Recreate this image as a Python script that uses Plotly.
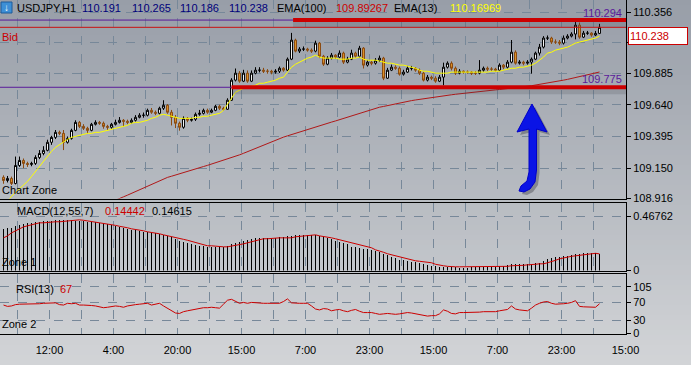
import plotly.graph_objects as go

# ---------------- data ----------------
open_ = [109.080, 109.055, 109.071, 109.032, 109.171, 109.210, 109.187, 109.179, 109.187, 109.233,
         109.264, 109.288, 109.350, 109.388, 109.427, 109.419, 109.350, 109.380, 109.442, 109.504,
         109.473, 109.458, 109.442, 109.489, 109.504, 109.497, 109.473, 109.466, 109.489, 109.504,
         109.520, 109.512, 109.504, 109.520, 109.543, 109.559, 109.559, 109.597, 109.582, 109.574,
         109.613, 109.636, 109.582, 109.543, 109.497, 109.466, 109.535, 109.520, 109.528, 109.566,
         109.574, 109.597, 109.582, 109.597, 109.628, 109.613, 109.605, 109.675, 109.830, 109.884,
         109.822, 109.884, 109.822, 109.884, 109.907, 109.907, 109.899, 109.899, 109.892, 109.899,
         109.922, 109.907, 109.992, 110.139, 110.054, 110.070, 110.070, 110.062, 110.054, 110.116,
         110.015, 109.953, 110.000, 110.023, 110.008, 110.039, 109.969, 109.992, 110.039, 110.015,
         110.077, 109.946, 109.969, 109.961, 109.984, 110.000, 109.845, 109.907, 109.930, 109.922,
         109.876, 109.892, 109.922, 109.922, 109.907, 109.884, 109.830, 109.853, 109.845, 109.822,
         109.853, 109.930, 109.961, 109.922, 109.884, 109.899, 109.892, 109.892, 109.884, 109.884,
         109.907, 109.922, 109.915, 109.915, 109.907, 109.946, 109.930, 109.969, 110.046, 109.961,
         109.969, 109.961, 109.969, 109.992, 110.039, 110.085, 110.155, 110.155, 110.124, 110.124,
         110.116, 110.155, 110.170, 110.186, 110.255, 110.162, 110.193, 110.193, 110.178, 110.191]
high = [109.095, 109.090, 109.085, 109.240, 109.240, 109.225, 109.200, 109.200, 109.250, 109.290,
        109.320, 109.370, 109.400, 109.445, 109.440, 109.445, 109.395, 109.455, 109.520, 109.515,
        109.490, 109.470, 109.500, 109.520, 109.515, 109.510, 109.485, 109.500, 109.525, 109.545,
        109.530, 109.525, 109.535, 109.560, 109.575, 109.580, 109.610, 109.615, 109.595, 109.625,
        109.675, 109.645, 109.600, 109.560, 109.510, 109.550, 109.545, 109.540, 109.580, 109.600,
        109.610, 109.610, 109.610, 109.640, 109.640, 109.625, 109.690, 109.845, 109.920, 109.900,
        109.910, 109.905, 109.905, 109.930, 109.930, 109.925, 109.915, 109.910, 109.915, 109.935,
        109.930, 110.005, 110.195, 110.150, 110.085, 110.090, 110.080, 110.075, 110.135, 110.125,
        110.025, 110.015, 110.040, 110.030, 110.060, 110.050, 110.010, 110.065, 110.050, 110.095,
        110.085, 109.985, 109.980, 110.000, 110.020, 110.010, 109.925, 109.950, 109.945, 109.935,
        109.910, 109.940, 109.940, 109.930, 109.920, 109.895, 109.870, 109.865, 109.860, 109.870,
        109.965, 109.975, 109.975, 109.935, 109.915, 109.905, 109.905, 109.900, 109.900, 109.985,
        109.935, 109.935, 109.930, 109.925, 109.960, 109.955, 109.985, 110.140, 110.060, 109.985,
        109.980, 109.985, 110.005, 110.050, 110.110, 110.170, 110.175, 110.165, 110.145, 110.140,
        110.175, 110.185, 110.200, 110.280, 110.275, 110.210, 110.210, 110.200, 110.210, 110.265]
low = [109.030, 109.040, 109.020, 109.025, 109.160, 109.150, 109.160, 109.165, 109.175, 109.220,
       109.250, 109.280, 109.330, 109.375, 109.405, 109.290, 109.340, 109.370, 109.435, 109.460,
       109.445, 109.420, 109.435, 109.480, 109.485, 109.455, 109.445, 109.455, 109.480, 109.495,
       109.470, 109.490, 109.495, 109.510, 109.535, 109.540, 109.550, 109.570, 109.560, 109.565,
       109.600, 109.570, 109.480, 109.460, 109.440, 109.455, 109.505, 109.510, 109.515, 109.555,
       109.565, 109.570, 109.575, 109.590, 109.600, 109.595, 109.600, 109.670, 109.820, 109.810,
       109.815, 109.810, 109.815, 109.875, 109.890, 109.885, 109.880, 109.875, 109.880, 109.885,
       109.895, 109.900, 109.985, 110.045, 110.040, 110.055, 110.050, 110.040, 110.045, 110.000,
       109.940, 109.945, 109.990, 109.995, 110.000, 109.955, 109.960, 109.985, 110.005, 110.005,
       109.920, 109.935, 109.945, 109.950, 109.970, 109.830, 109.840, 109.900, 109.910, 109.865,
       109.865, 109.885, 109.905, 109.895, 109.870, 109.820, 109.820, 109.830, 109.810, 109.815,
       109.790, 109.920, 109.905, 109.870, 109.875, 109.880, 109.880, 109.870, 109.870, 109.875,
       109.895, 109.900, 109.900, 109.895, 109.900, 109.915, 109.920, 109.960, 109.950, 109.950,
       109.945, 109.950, 109.880, 109.985, 110.020, 110.075, 110.140, 110.110, 110.110, 110.100,
       110.105, 110.145, 110.160, 110.145, 110.150, 110.155, 110.180, 110.165, 110.170, 110.186]
close = [109.055, 109.071, 109.032, 109.171, 109.210, 109.187, 109.179, 109.187, 109.233, 109.264,
         109.288, 109.350, 109.388, 109.427, 109.419, 109.350, 109.380, 109.442, 109.504, 109.473,
         109.458, 109.442, 109.489, 109.504, 109.497, 109.473, 109.466, 109.489, 109.504, 109.520,
         109.512, 109.504, 109.520, 109.543, 109.559, 109.559, 109.597, 109.582, 109.574, 109.613,
         109.636, 109.582, 109.543, 109.497, 109.466, 109.535, 109.520, 109.528, 109.566, 109.574,
         109.597, 109.582, 109.597, 109.628, 109.613, 109.605, 109.675, 109.830, 109.884, 109.822,
         109.884, 109.822, 109.884, 109.907, 109.907, 109.899, 109.899, 109.892, 109.899, 109.922,
         109.907, 109.992, 110.139, 110.054, 110.070, 110.070, 110.062, 110.054, 110.116, 110.015,
         109.953, 110.000, 110.023, 110.008, 110.039, 109.969, 109.992, 110.039, 110.015, 110.077,
         109.946, 109.969, 109.961, 109.984, 110.000, 109.845, 109.907, 109.930, 109.922, 109.876,
         109.892, 109.922, 109.922, 109.907, 109.884, 109.830, 109.853, 109.845, 109.822, 109.853,
         109.930, 109.961, 109.922, 109.884, 109.899, 109.892, 109.892, 109.884, 109.884, 109.907,
         109.922, 109.915, 109.915, 109.907, 109.946, 109.930, 109.969, 110.046, 109.961, 109.969,
         109.961, 109.969, 109.992, 110.039, 110.085, 110.155, 110.155, 110.124, 110.124, 110.116,
         110.155, 110.170, 110.186, 110.255, 110.162, 110.193, 110.193, 110.178, 110.191, 110.238]

ema13 = [108.862, 108.901, 108.932, 108.963, 108.993, 109.017, 109.048, 109.086, 109.125, 109.164,
         109.210, 109.241, 109.280, 109.311, 109.334, 109.350, 109.373, 109.388, 109.396, 109.404,
         109.411, 109.419, 109.419, 109.427, 109.427, 109.435, 109.442, 109.450, 109.458, 109.466,
         109.473, 109.481, 109.497, 109.504, 109.504, 109.512, 109.520, 109.535, 109.543, 109.559,
         109.566, 109.559, 109.551, 109.543, 109.535, 109.535, 109.535, 109.535, 109.543, 109.543,
         109.551, 109.551, 109.559, 109.566, 109.574, 109.597, 109.644, 109.698, 109.737, 109.752,
         109.768, 109.776, 109.783, 109.791, 109.806, 109.806, 109.814, 109.822, 109.830, 109.845,
         109.853, 109.892, 109.930, 109.953, 109.969, 109.984, 110.000, 110.008, 110.023, 110.008,
         110.000, 110.000, 110.000, 110.000, 109.992, 109.992, 109.992, 110.000, 110.000, 110.008,
         109.992, 109.984, 109.984, 109.984, 109.977, 109.969, 109.961, 109.961, 109.953, 109.946,
         109.946, 109.938, 109.930, 109.922, 109.907, 109.899, 109.899, 109.892, 109.884, 109.884,
         109.884, 109.884, 109.892, 109.892, 109.892, 109.892, 109.892, 109.892, 109.892, 109.892,
         109.892, 109.892, 109.899, 109.899, 109.899, 109.907, 109.915, 109.922, 109.922, 109.930,
         109.930, 109.938, 109.946, 109.961, 109.984, 110.008, 110.039, 110.046, 110.062, 110.070,
         110.077, 110.085, 110.100, 110.116, 110.124, 110.131, 110.139, 110.147, 110.155, 110.170]

ema100 = [None] * 27 + [
    108.890, 108.901, 108.915, 108.929, 108.942, 108.956, 108.970, 108.983, 108.997, 109.011,
    109.024, 109.038, 109.052, 109.065, 109.079, 109.088, 109.098, 109.107, 109.116, 109.126,
    109.135, 109.144, 109.154, 109.163, 109.172, 109.182, 109.191, 109.200, 109.210, 109.219,
    109.228, 109.240, 109.253, 109.265, 109.278, 109.291, 109.304, 109.317, 109.329, 109.342,
    109.355, 109.368, 109.380, 109.390, 109.400, 109.410, 109.420, 109.431, 109.441, 109.451,
    109.461, 109.470, 109.479, 109.488, 109.497, 109.506, 109.515, 109.525, 109.534, 109.543,
    109.553, 109.562, 109.572, 109.582, 109.592, 109.601, 109.611, 109.621, 109.627, 109.634,
    109.640, 109.646, 109.653, 109.659, 109.665, 109.672, 109.677, 109.682, 109.686, 109.691,
    109.695, 109.700, 109.704, 109.709, 109.713, 109.717, 109.721, 109.725, 109.728, 109.732,
    109.736, 109.740, 109.744, 109.747, 109.750, 109.752, 109.755, 109.758, 109.761, 109.764,
    109.766, 109.769, 109.774, 109.778, 109.783, 109.787, 109.792, 109.796, 109.801, 109.805,
    109.811, 109.818, 109.824, 109.830, 109.836, 109.843, 109.849, 109.855, 109.863, 109.870,
    109.878, 109.885, 109.893]

macd_hist = [0.357, 0.365, 0.370, 0.383, 0.396, 0.400, 0.413, 0.413, 0.417, 0.422,
             0.426, 0.430, 0.430, 0.435, 0.439, 0.439, 0.439, 0.435, 0.430, 0.430,
             0.426, 0.422, 0.422, 0.417, 0.413, 0.409, 0.400, 0.396, 0.383, 0.374,
             0.370, 0.361, 0.352, 0.348, 0.344, 0.335, 0.331, 0.326, 0.322, 0.318,
             0.309, 0.300, 0.288, 0.275, 0.253, 0.244, 0.240, 0.227, 0.218, 0.214,
             0.210, 0.205, 0.205, 0.205, 0.205, 0.205, 0.214, 0.227, 0.240, 0.249,
             0.257, 0.266, 0.275, 0.279, 0.283, 0.283, 0.283, 0.283, 0.283, 0.288,
             0.292, 0.296, 0.300, 0.309, 0.309, 0.309, 0.309, 0.309, 0.309, 0.300,
             0.288, 0.283, 0.270, 0.257, 0.249, 0.240, 0.231, 0.205, 0.201, 0.197,
             0.188, 0.184, 0.179, 0.166, 0.158, 0.145, 0.132, 0.119, 0.106, 0.093,
             0.088, 0.080, 0.075, 0.071, 0.067, 0.058, 0.049, 0.041, 0.036, 0.032,
             0.032, 0.032, 0.028, 0.028, 0.023, 0.023, 0.023, 0.028, 0.028, 0.032,
             0.032, 0.032, 0.032, 0.032, 0.036, 0.041, 0.049, 0.054, 0.058, 0.058,
             0.058, 0.058, 0.058, 0.062, 0.067, 0.084, 0.101, 0.110, 0.114, 0.119,
             0.123, 0.127, 0.136, 0.140, 0.145, 0.149, 0.153, 0.153, 0.150, 0.146]

macd_signal = [0.283, 0.300, 0.326, 0.344, 0.365, 0.378, 0.387, 0.396, 0.404, 0.413,
               0.413, 0.417, 0.417, 0.422, 0.422, 0.426, 0.430, 0.435, 0.439, 0.439,
               0.435, 0.430, 0.426, 0.422, 0.417, 0.409, 0.404, 0.396, 0.391, 0.383,
               0.378, 0.370, 0.361, 0.357, 0.348, 0.344, 0.335, 0.331, 0.322, 0.318,
               0.309, 0.300, 0.296, 0.288, 0.279, 0.270, 0.262, 0.253, 0.240, 0.231,
               0.223, 0.214, 0.214, 0.210, 0.210, 0.205, 0.205, 0.210, 0.218, 0.223,
               0.231, 0.240, 0.249, 0.257, 0.266, 0.275, 0.275, 0.279, 0.279, 0.283,
               0.283, 0.283, 0.283, 0.292, 0.296, 0.300, 0.305, 0.309, 0.309, 0.300,
               0.296, 0.292, 0.283, 0.275, 0.266, 0.257, 0.249, 0.240, 0.227, 0.218,
               0.210, 0.201, 0.197, 0.179, 0.171, 0.158, 0.145, 0.136, 0.123, 0.114,
               0.106, 0.097, 0.093, 0.084, 0.080, 0.075, 0.071, 0.067, 0.054, 0.045,
               0.041, 0.036, 0.032, 0.032, 0.032, 0.032, 0.032, 0.032, 0.032, 0.032,
               0.032, 0.032, 0.032, 0.032, 0.032, 0.036, 0.036, 0.041, 0.041, 0.045,
               0.045, 0.049, 0.049, 0.054, 0.058, 0.058, 0.067, 0.075, 0.088, 0.101,
               0.110, 0.119, 0.123, 0.127, 0.132, 0.136, 0.145, 0.149, 0.149, 0.144]

rsi = [64, 61, 62, 65, 66, 66, 66, 66, 66, 67,
       68, 68, 68, 69, 65, 64, 68, 67, 68, 64,
       64, 64, 63, 62, 60, 58, 59, 61, 62, 61,
       59, 62, 64, 65, 66, 67, 68, 64, 66, 68,
       62, 57, 51, 46, 45, 49, 51, 53, 55, 57,
       58, 58, 59, 58, 57, 66, 75, 77, 73, 68,
       70, 68, 70, 69, 69, 68, 68, 68, 68, 68,
       72, 78, 69, 68, 68, 68, 68, 62, 55, 53,
       56, 55, 51, 53, 54, 51, 49, 52, 54, 50,
       47, 47, 47, 45, 43, 44, 45, 44, 43, 44,
       46, 47, 46, 44, 42, 40, 39, 40, 40, 44,
       53, 50, 45, 44, 47, 47, 47, 47, 47, 48,
       49, 49, 49, 49, 51, 53, 54, 62, 55, 53,
       52, 51, 57, 64, 68, 71, 72, 68, 66, 66,
       67, 68, 70, 74, 61, 60, 60, 59, 59, 67]

time_labels = ["12:00", "4:00", "20:00", "15:00", "7:00", "23:00", "15:00", "7:00", "23:00", "15:00"]
price_ticks = [110.356, 110.121, 109.885, 109.640, 109.395, 109.150, 108.916]
price_ticktext = ["110.356", "", "109.885", "109.640", "109.395", "109.150", "108.916"]
macd_ticks = [0.46762, 0]
rsi_ticks = [105, 70, 30, 0]
line_high = 110.294
line_low = 109.775
bid = 110.238

bars = list(range(len(close)))

# ---------------- geometry helpers (pixels -> paper) ----------------
FW, FH = 691, 365
PW, PH = 626, 334


def px(x):
    return x / PW


def py(y):
    return (PH - y) / PH


# 4 px per bar, bar k centred on pixel 3.5 + 4k
XR = [-0.875, 155.625]
grid_x = [3.5 + 8 * i for i in range(20)]
grid_text = []
for i in range(20):
    grid_text.append(time_labels[(i - 1) // 2] if i % 2 == 1 else "")

GRID = "#778899"
FONT = "Liberation Sans"

fig = go.Figure()

fig.add_trace(go.Candlestick(
    x=bars, open=open_, high=high, low=low, close=close,
    increasing=dict(line=dict(color="#000000", width=1), fillcolor="#ffffff"),
    decreasing=dict(line=dict(color="#8a4a10", width=1), fillcolor="#e0962a"),
    whiskerwidth=0, xaxis="x", yaxis="y", hoverinfo="skip", showlegend=False))
fig.add_trace(go.Scatter(x=bars, y=ema100, mode="lines", line=dict(color="#b01818", width=1),
                         xaxis="x", yaxis="y", hoverinfo="skip", showlegend=False))
fig.add_trace(go.Scatter(x=bars, y=ema13, mode="lines", line=dict(color="#ffff00", width=1),
                         xaxis="x", yaxis="y", hoverinfo="skip", showlegend=False))

fig.add_trace(go.Bar(x=bars, y=macd_hist, width=0.25, marker=dict(color="#000000", line=dict(width=0)),
                     xaxis="x2", yaxis="y2", hoverinfo="skip", showlegend=False))
fig.add_trace(go.Scatter(x=bars, y=macd_signal, mode="lines", line=dict(color="#cc0000", width=1),
                         xaxis="x2", yaxis="y2", hoverinfo="skip", showlegend=False))

fig.add_trace(go.Scatter(x=bars, y=rsi, mode="lines", line=dict(color="#cc0000", width=1),
                         xaxis="x3", yaxis="y3", hoverinfo="skip", showlegend=False))

# ---------------- background gradient ----------------
shapes = []
N = 73
c0 = (152, 158, 168)
c1 = (210, 212, 215)
for i in range(N):
    t = i / (N - 1)
    c = tuple(int(round(c0[j] + (c1[j] - c0[j]) * t)) for j in range(3))
    y0 = i * FH / N
    y1 = (i + 1) * FH / N + 0.5
    shapes.append(dict(type="rect", xref="paper", yref="paper", x0=px(0), x1=px(FW),
                       y0=py(y1), y1=py(y0), fillcolor="rgb(%d,%d,%d)" % c,
                       line=dict(width=0), layer="below"))

# horizontal objects in price panel
shapes += [
    dict(type="line", xref="x", yref="y", x0=XR[0], x1=XR[1], y0=line_high, y1=line_high,
         line=dict(color="#5a1a9a", width=1)),
    dict(type="line", xref="x", yref="y", x0=XR[0], x1=XR[1], y0=line_low, y1=line_low,
         line=dict(color="#5a1a9a", width=1)),
    dict(type="line", xref="x", yref="y", x0=XR[0], x1=XR[1], y0=bid, y1=bid,
         line=dict(color="#c81010", width=1)),
    # shadows of thick trend lines
    dict(type="line", xref="x", yref="y", x0=72.4, x1=XR[1], y0=line_high - 0.030, y1=line_high - 0.030,
         line=dict(color="rgba(60,60,70,0.18)", width=6)),
    dict(type="line", xref="x", yref="y", x0=57.0, x1=XR[1], y0=line_low - 0.030, y1=line_low - 0.030,
         line=dict(color="rgba(60,60,70,0.18)", width=6)),
    dict(type="line", xref="x", yref="y", x0=72.4, x1=XR[1], y0=line_high, y1=line_high,
         line=dict(color="#cc0000", width=4)),
    dict(type="line", xref="x", yref="y", x0=57.0, x1=XR[1], y0=line_low, y1=line_low,
         line=dict(color="#cc0000", width=4)),
]


def path(points):
    s = "M %f,%f" % (px(points[0][0]), py(points[0][1]))
    for p in points[1:]:
        s += " L %f,%f" % (px(p[0]), py(p[1]))
    return s + " Z"


arrow = [(532, 104), (547, 132), (536.5, 129), (536.5, 170), (535, 182), (530, 189), (524, 192),
         (519, 191), (521, 186), (527, 181), (529, 172), (529, 129), (517, 132)]
shadow = [(x + 3, y + 3) for x, y in arrow]
shapes.append(dict(type="path", xref="paper", yref="paper", path=path(shadow),
                   fillcolor="rgba(40,40,50,0.35)", line=dict(width=0)))
shapes.append(dict(type="path", xref="paper", yref="paper", path=path(arrow),
                   fillcolor="#0a14e6", line=dict(color="#0000c8", width=1)))

# title icon
shapes.append(dict(type="rect", xref="paper", yref="paper", x0=px(1), x1=px(12), y0=py(13), y1=py(2),
                   fillcolor="#3d8fd6", line=dict(color="#1d5a9a", width=1)))

# ---------------- texts ----------------
ann = []


def txt(x, y, s, color="#000000", size=11, anchor="left"):
    ann.append(dict(xref="paper", yref="paper", x=px(x), y=py(y), text=s, showarrow=False,
                    xanchor=anchor, yanchor="middle", font=dict(family=FONT, size=size, color=color)))


txt(2, 8, "↓", "#ffffff", 10)
txt(15, 8, "USDJPY,H1")
txt(80, 8, "110.191", "#00007a")
txt(130, 8, "110.265", "#00007a")
txt(178, 8, "110.186", "#00007a")
txt(227, 8, "110.238", "#00007a")
txt(275, 8, "EMA(100)")
txt(334, 8, "109.89267", "#cc0000")
txt(392, 8, "EMA(13)")
txt(448, 8, "110.16969", "#ffff00")
txt(0, 37, "Bid", "#cc0000")
txt(0, 190, "Chart Zone")
txt(624, 13, "110.294", "#5a1a9a", 11, "right")
txt(624, 79, "109.775", "#5a1a9a", 11, "right")
txt(15, 211, "MACD(12,55,7)")
txt(103, 211, "0.14442", "#cc0000")
txt(150, 211, "0.14615")
txt(0, 262, "Zone 1")
txt(14, 289, "RSI(13)")
txt(58, 289, "67", "#cc0000")
txt(0, 324, "Zone 2")
ann.append(dict(xref="paper", yref="paper", x=px(628), y=py(36), text="110.238", showarrow=False,
                xanchor="left", yanchor="middle", width=56, height=14, align="left",
                bgcolor="#ffffff", bordercolor="#cc0000", borderwidth=1, borderpad=1,
                font=dict(family=FONT, size=11, color="#cc0000")))

# ---------------- axes ----------------
xcommon = dict(range=XR, tickmode="array", tickvals=grid_x, showgrid=True, gridcolor=GRID,
               griddash="dash", gridwidth=1, zeroline=False, showline=True, linecolor="#000000",
               linewidth=1, ticks="", fixedrange=True)
ycommon = dict(side="right", showgrid=True, gridcolor=GRID, griddash="dash", gridwidth=1,
               zeroline=False, showline=True, linecolor="#000000", linewidth=1, ticks="outside",
               ticklen=4, tickcolor="#000000", tickfont=dict(family=FONT, size=11, color="#000000"),
               fixedrange=True, tickmode="array")

fig.update_layout(
    width=FW, height=FH,
    margin=dict(l=0, r=FW - PW, t=0, b=FH - PH),
    paper_bgcolor="#b4b8be", plot_bgcolor="rgba(0,0,0,0)",
    showlegend=False, bargap=0,
    xaxis=dict(xcommon, anchor="y", domain=[0, 1], showticklabels=False, mirror=False,
               rangeslider=dict(visible=False)),
    xaxis2=dict(xcommon, anchor="y2", matches="x", showticklabels=False, mirror=True),
    xaxis3=dict(xcommon, anchor="y3", matches="x", ticktext=grid_text, showticklabels=True, mirror=True,
                ticklabelstandoff=6, tickfont=dict(family=FONT, size=11, color="#000000")),
    yaxis=dict(ycommon, domain=[(PH - 198.5) / PH, 1], range=[108.916, 110.449], anchor="x",
               tickvals=price_ticks, ticktext=price_ticktext),
    yaxis2=dict(ycommon, domain=[(PH - 270.5) / PH, (PH - 202.5) / PH], range=[0, 0.589], anchor="x2",
                tickvals=macd_ticks, ticktext=["0.46762", "0"]),
    yaxis3=dict(ycommon, domain=[0, (PH - 274) / PH], range=[-1.6, 134.4], anchor="x3",
                tickvals=rsi_ticks, ticktext=["105", "70", "30", "0"]),
    shapes=shapes, annotations=ann,
)

fig.write_html("out.html", config=dict(displayModeBar=False, staticPlot=True),
               post_script="document.body.style.margin='0px';document.body.style.overflow='hidden';")
